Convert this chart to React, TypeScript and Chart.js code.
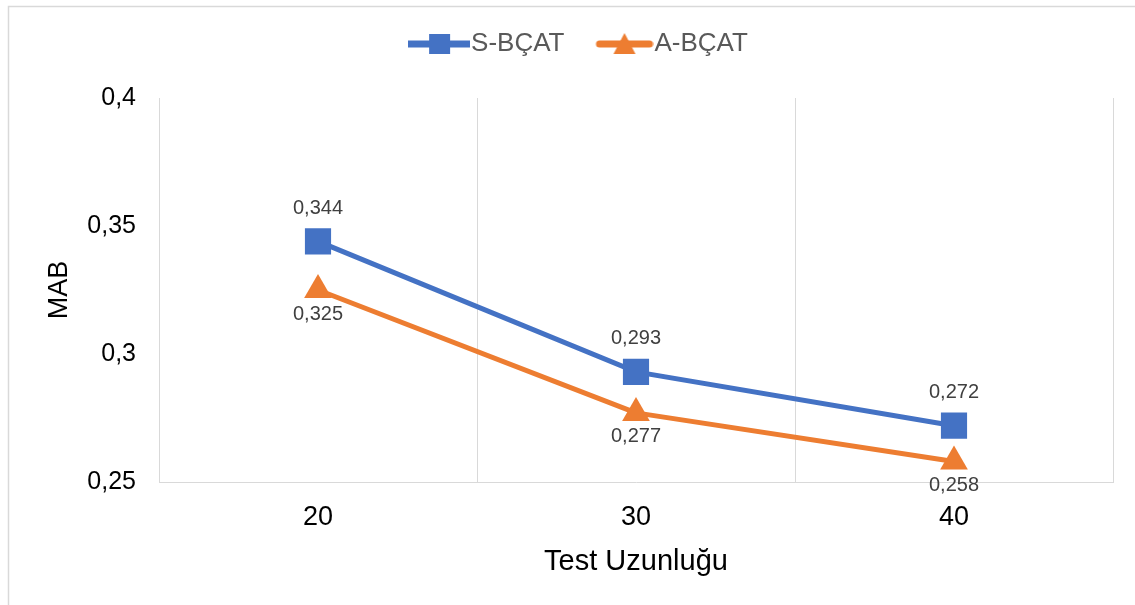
import React, { useEffect, useRef } from 'react';
import { Chart, registerables } from 'chart.js';

Chart.register(...registerables);

const categories = ['20', '30', '40'];
const sBcatValues = [0.344, 0.293, 0.272];
const aBcatValues = [0.325, 0.277, 0.258];
const seriesNames = ['S-BÇAT', 'A-BÇAT'];
const yTickValues = [0.25, 0.3, 0.35, 0.4];
const yTickLabels = ['0,25', '0,3', '0,35', '0,4'];
const xAxisTitle = 'Test Uzunluğu';
const yAxisTitle = 'MAB';

const BLUE = '#4472C4';
const ORANGE = '#ED7D31';
const FONT = "'Liberation Sans', Arial, sans-serif";

function legendIcon(color: string, shape: 'rect' | 'triangle'): HTMLCanvasElement {
  const c = document.createElement('canvas');
  c.width = 62;
  c.height = 28;
  const ctx = c.getContext('2d')!;
  ctx.strokeStyle = color;
  ctx.fillStyle = color;
  ctx.lineWidth = 7;
  ctx.beginPath();
  if (shape === 'rect') {
    ctx.lineCap = 'butt';
    ctx.moveTo(0, 14);
    ctx.lineTo(62, 14);
  } else {
    ctx.lineCap = 'round';
    ctx.moveTo(8, 14);
    ctx.lineTo(58, 14);
  }
  ctx.stroke();
  if (shape === 'rect') {
    ctx.fillRect(21, 4, 21, 20);
  } else {
    ctx.beginPath();
    ctx.moveTo(33, 3);
    ctx.lineTo(44, 24);
    ctx.lineTo(22, 24);
    ctx.closePath();
    ctx.fill();
  }
  return c;
}

const fmt = (v: number) => String(v).replace('.', ',');

const borderPlugin = {
  id: 'outerBorder',
  beforeDraw(chart: any) {
    const ctx = chart.ctx;
    ctx.save();
    ctx.fillStyle = '#ffffff';
    ctx.fillRect(0, 0, chart.width, chart.height);
    ctx.strokeStyle = '#d9d9d9';
    ctx.lineWidth = 1.5;
    ctx.strokeRect(8.5, 6.5, 1300, 800);
    ctx.restore();
  },
};

const dataLabelPlugin = {
  id: 'dataLabels',
  afterDatasetsDraw(chart: any) {
    const ctx = chart.ctx;
    ctx.save();
    ctx.font = `20px ${FONT}`;
    ctx.fillStyle = '#404040';
    ctx.textAlign = 'center';
    ctx.textBaseline = 'middle';
    chart.data.datasets.forEach((ds: any, di: number) => {
      const meta = chart.getDatasetMeta(di);
      const off = di === 0 ? -33 : 24;
      meta.data.forEach((pt: any, i: number) => {
        ctx.fillText(fmt(ds.data[i]), pt.x, pt.y + off);
      });
    });
    ctx.restore();
  },
};

export default function App() {
  const ref = useRef<HTMLCanvasElement | null>(null);

  useEffect(() => {
    if (!ref.current) return;
    const icons = [legendIcon(BLUE, 'rect'), legendIcon(ORANGE, 'triangle')];
    const chart = new Chart(ref.current, {
      type: 'line',
      data: {
        labels: categories,
        datasets: [
          {
            label: seriesNames[0],
            data: sBcatValues,
            xAxisID: 'x',
            yAxisID: 'y',
            borderColor: BLUE,
            backgroundColor: BLUE,
            borderWidth: 5,
            pointStyle: 'rect',
            pointRadius: 18.5,
            pointHoverRadius: 18.5,
            pointBorderWidth: 0,
            tension: 0,
          },
          {
            label: seriesNames[1],
            data: aBcatValues,
            xAxisID: 'x',
            yAxisID: 'y',
            borderColor: ORANGE,
            backgroundColor: ORANGE,
            borderWidth: 5,
            pointStyle: 'triangle',
            pointRadius: 16,
            pointHoverRadius: 16,
            pointBorderWidth: 0,
            tension: 0,
            borderJoinStyle: 'round',
          },
        ],
      },
      options: {
        responsive: false,
        animation: false,
        devicePixelRatio: 1,
        layout: { padding: { left: 55, right: 22, top: -8, bottom: 0 } },
        plugins: {
          tooltip: { enabled: false },
          legend: {
            display: true,
            position: 'top',
            labels: {
              usePointStyle: true,
              pointStyleWidth: 38,
              padding: 39,
              color: '#595959',
              font: { family: FONT, size: 26 },
              generateLabels: (ch: any) => {
                const items = (Chart as any).defaults.plugins.legend.labels.generateLabels(ch);
                return items.map((it: any, i: number) => ({ ...it, pointStyle: icons[i], fontColor: '#595959' }));
              },
            },
          },
        },
        scales: {
          x: {
            type: 'category',
            position: 'bottom',
            offset: true,
            grid: { display: true, offset: true, color: '#d9d9d9', lineWidth: 1, drawTicks: false },
            border: { display: true, color: '#d9d9d9', width: 1 },
            ticks: { color: '#000000', font: { family: FONT, size: 27 }, padding: 19 },
            title: {
              display: true,
              text: xAxisTitle,
              color: '#000000',
              font: { family: FONT, size: 29 },
              padding: { top: 0, bottom: 26 },
            },
            afterFit: (s: any) => {
              s.height = 123;
            },
          },
          xTop: {
            type: 'category',
            axis: 'x',
            position: 'top',
            offset: true,
            display: true,
            grid: { display: false },
            border: { display: false },
            ticks: { display: false },
            afterFit: (s: any) => {
              s.height = 31;
            },
          },
          y: {
            type: 'linear',
            min: yTickValues[0],
            max: yTickValues[yTickValues.length - 1],
            grid: { display: false, drawTicks: false },
            border: { display: false },
            afterBuildTicks: (s: any) => {
              s.ticks = yTickValues.map((v) => ({ value: v }));
            },
            ticks: {
              color: '#000000',
              font: { family: FONT, size: 25 },
              padding: 23,
              callback: (v: any) => {
                const idx = yTickValues.findIndex((t) => Math.abs(t - Number(v)) < 1e-9);
                return idx >= 0 ? yTickLabels[idx] : '';
              },
            },
            title: {
              display: true,
              text: yAxisTitle,
              color: '#000000',
              font: { family: FONT, size: 27 },
              padding: { top: -12, bottom: 0 },
            },
            afterFit: (s: any) => {
              s.width = 104;
            },
          },
        },
      },
      plugins: [borderPlugin, dataLabelPlugin],
    } as any);
    return () => chart.destroy();
  }, []);

  return (
    <div style={{ position: 'fixed', left: 0, top: 0, width: 1135, height: 605, background: '#fff' }}>
      <canvas ref={ref} width={1135} height={605} style={{ display: 'block' }} />
    </div>
  );
}
